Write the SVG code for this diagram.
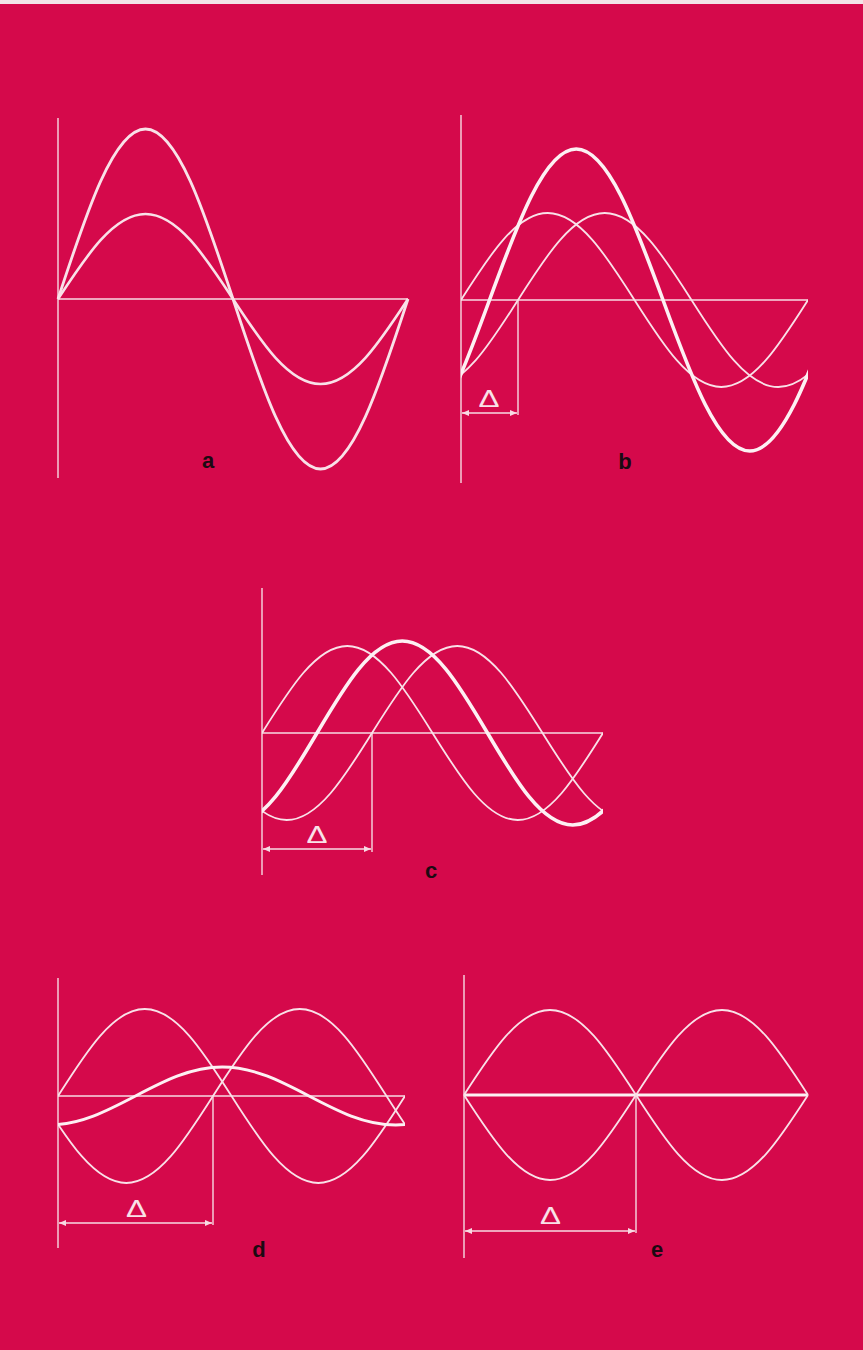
<svg xmlns="http://www.w3.org/2000/svg" width="863" height="1350" viewBox="0 0 863 1350">
<style>
.ax{stroke:#f7dbe3;stroke-width:1.4;fill:none}
.thin{stroke:#f9e1e8;stroke-width:1.8;fill:none;stroke-linejoin:round}
.thick{stroke:#fdf0f3;stroke-width:3.6;fill:none;stroke-linejoin:round}
.dim{stroke:#f7dbe3;stroke-width:1.4;fill:none}
.lbl{font-family:"Liberation Sans",Arial,sans-serif;font-weight:bold;font-size:22px;fill:#1c0a12;text-anchor:middle}
.dl{font-family:"Liberation Sans",Arial,sans-serif;font-size:24px;fill:#f9e1e8;text-anchor:middle}
</style>
<defs>
<marker id="ah" viewBox="0 0 7 7" refX="7" refY="3.5" markerWidth="7" markerHeight="7" markerUnits="userSpaceOnUse" orient="auto-start-reverse">
<path d="M0,0.5 L7,3.5 L0,6.5 z" fill="#f7dbe3"/>
</marker>
<clipPath id="cb"><rect x="461" y="100" width="347" height="400"/></clipPath>
<clipPath id="cc"><rect x="262" y="580" width="341" height="300"/></clipPath>
<clipPath id="cd"><rect x="58" y="970" width="347" height="300"/></clipPath>
</defs>
<rect x="0" y="0" width="863" height="1350" fill="#d5094b"/>
<rect x="0" y="0" width="863" height="4" fill="#f3e4e8"/>

<g id="panel-a">
<line class="ax" x1="58" y1="118" x2="58" y2="478"/>
<line class="ax" x1="58" y1="299" x2="408" y2="299"/>
<path class="thin" style="stroke-width:2.8" d="M58,299 c28.53,-87.09 55.83,-170 87.5,-170 c31.67,0 58.97,82.91 87.5,170 c28.53,87.09 55.83,170 87.5,170 c31.67,0 58.97,-82.91 87.5,-170"/>
<path class="thin" style="stroke-width:2.6" d="M58,299 c28.53,-43.55 55.83,-85 87.5,-85 c31.67,0 58.97,41.45 87.5,85 c28.53,43.55 55.83,85 87.5,85 c31.67,0 58.97,-41.45 87.5,-85"/>
<text class="lbl" x="208" y="468">a</text>
</g>

<g id="panel-b">
<line class="ax" x1="461" y1="115" x2="461" y2="483"/>
<line class="ax" x1="461" y1="300" x2="808" y2="300"/>
<g clip-path="url(#cb)">
<path class="thin" d="M461,300 c28.29,-44.57 55.36,-87 86.75,-87 c31.39,0 58.46,42.43 86.75,87 c28.29,44.57 55.36,87 86.75,87 c31.39,0 58.46,-42.43 86.75,-87"/>
<path class="thin" d="M431.25,387 c31.39,0 58.46,-42.43 86.75,-87 c28.29,-44.57 55.36,-87 86.75,-87 c31.39,0 58.46,42.43 86.75,87 c28.29,44.57 55.36,87 86.75,87 c31.39,0 58.46,-42.43 86.75,-87"/>
<path class="thick" d="M402.75,451 c31.39,0 58.46,-73.64 86.75,-151 c28.29,-77.36 55.36,-151 86.75,-151 c31.39,0 58.46,73.64 86.75,151 c28.29,77.36 55.36,151 86.75,151 c31.39,0 58.46,-73.64 86.75,-151"/>
</g>
<line class="dim" x1="518" y1="300" x2="518" y2="415"/>
<line class="dim" x1="462" y1="413" x2="517" y2="413" marker-start="url(#ah)" marker-end="url(#ah)"/>
<text class="dl" x="489" y="407" textLength="21" lengthAdjust="spacingAndGlyphs">Δ</text>
<text class="lbl" x="625" y="469">b</text>
</g>

<g id="panel-c">
<line class="ax" x1="262" y1="588" x2="262" y2="875"/>
<line class="ax" x1="262" y1="733" x2="603" y2="733"/>
<g clip-path="url(#cc)">
<path class="thin" d="M262,733 c27.8,-44.57 54.4,-87 85.25,-87 c30.85,0 57.45,42.43 85.25,87 c27.8,44.57 54.4,87 85.25,87 c30.85,0 57.45,-42.43 85.25,-87"/>
<path class="thin" d="M201.5,733 c27.8,44.57 54.4,87 85.25,87 c30.85,0 57.45,-42.43 85.25,-87 c27.8,-44.57 54.4,-87 85.25,-87 c30.85,0 57.45,42.43 85.25,87 c27.8,44.57 54.4,87 85.25,87"/>
<path class="thick" d="M231.75,825 c30.85,0 57.45,-44.87 85.25,-92 c27.8,-47.13 54.4,-92 85.25,-92 c30.85,0 57.45,44.87 85.25,92 c27.8,47.13 54.4,92 85.25,92 c30.85,0 57.45,-44.87 85.25,-92"/>
</g>
<line class="dim" x1="372" y1="733" x2="372" y2="852"/>
<line class="dim" x1="263" y1="849" x2="371" y2="849" marker-start="url(#ah)" marker-end="url(#ah)"/>
<text class="dl" x="317" y="843" textLength="21" lengthAdjust="spacingAndGlyphs">Δ</text>
<text class="lbl" x="431" y="878">c</text>
</g>

<g id="panel-d">
<line class="ax" x1="58" y1="978" x2="58" y2="1248"/>
<line class="ax" x1="58" y1="1096" x2="405" y2="1096"/>
<g clip-path="url(#cd)">
<path class="thin" d="M58,1096 c28.29,-44.57 55.36,-87 86.75,-87 c31.39,0 58.46,42.43 86.75,87 c28.29,44.57 55.36,87 86.75,87 c31.39,0 58.46,-42.43 86.75,-87"/>
<path class="thin" d="M39.5,1096 c28.29,44.57 55.36,87 86.75,87 c31.39,0 58.46,-42.43 86.75,-87 c28.29,-44.57 55.36,-87 86.75,-87 c31.39,0 58.46,42.43 86.75,87 c28.29,44.57 55.36,87 86.75,87"/>
<path class="thick" style="stroke-width:3" d="M48.75,1125 c31.39,0 58.46,-14.14 86.75,-29 c28.29,-14.86 55.36,-29 86.75,-29 c31.39,0 58.46,14.14 86.75,29 c28.29,14.86 55.36,29 86.75,29 c31.39,0 58.46,-14.14 86.75,-29"/>
</g>
<line class="dim" x1="213" y1="1096" x2="213" y2="1225"/>
<line class="dim" x1="59" y1="1223" x2="212" y2="1223" marker-start="url(#ah)" marker-end="url(#ah)"/>
<text class="dl" x="136.5" y="1217" textLength="21" lengthAdjust="spacingAndGlyphs">Δ</text>
<text class="lbl" x="259" y="1257">d</text>
</g>

<g id="panel-e">
<line class="ax" x1="464" y1="975" x2="464" y2="1258"/>
<line class="thick" style="stroke-width:3" x1="464" y1="1095" x2="808" y2="1095"/>
<path class="thin" d="M464,1095 c28.04,-43.55 54.88,-85 86,-85 c31.12,0 57.96,41.45 86,85 c28.04,43.55 54.88,85 86,85 c31.12,0 57.96,-41.45 86,-85"/>
<path class="thin" d="M464,1095 c28.04,43.55 54.88,85 86,85 c31.12,0 57.96,-41.45 86,-85 c28.04,-43.55 54.88,-85 86,-85 c31.12,0 57.96,41.45 86,85"/>
<line class="dim" x1="636" y1="1095" x2="636" y2="1233"/>
<line class="dim" x1="465" y1="1231" x2="635" y2="1231" marker-start="url(#ah)" marker-end="url(#ah)"/>
<text class="dl" x="550.5" y="1224" textLength="21" lengthAdjust="spacingAndGlyphs">Δ</text>
<text class="lbl" x="657" y="1257">e</text>
</g>
</svg>
